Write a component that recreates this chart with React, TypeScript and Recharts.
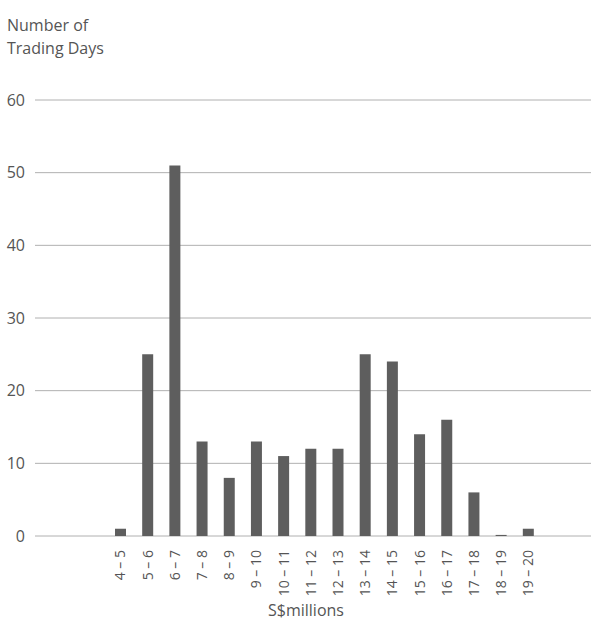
import { Bar, BarChart, CartesianGrid, XAxis, YAxis } from 'recharts';

const ranges = [
  '4 – 5', '5 – 6', '6 – 7', '7 – 8', '8 – 9', '9 – 10', '10 – 11', '11 – 12',
  '12 – 13', '13 – 14', '14 – 15', '15 – 16', '16 – 17', '17 – 18', '18 – 19', '19 – 20',
];
const tradingDays = [1, 25, 51, 13, 8, 13, 11, 12, 12, 25, 24, 14, 16, 6, 0.15, 1];
const yTicks = [0, 10, 20, 30, 40, 50, 60];

const data = ranges.map((range, i) => ({ range, days: tradingDays[i] }));

const font = '"Open Sans", sans-serif';
const textColor = '#555';

function RotatedTick({ x, y, payload }: { x: number; y: number; payload: { value: string } }) {
  return (
    <text
      x={x}
      y={y}
      transform={`rotate(-90 ${x} ${y})`}
      textAnchor="end"
      dy="0.35em"
      fontSize={14}
      fontFamily={font}
      fill={textColor}
    >
      {payload.value}
    </text>
  );
}

export default function App() {
  return (
    <div style={{ position: 'absolute', left: 0, top: 0, width: 591, height: 622, fontFamily: font, color: textColor }}>
      <div style={{ position: 'absolute', left: 7, top: 14, fontSize: 16, lineHeight: '23px' }}>
        Number of
        <br />
        Trading Days
      </div>
      <BarChart width={591} height={622} data={data} margin={{ top: 100, right: 0, bottom: 26, left: 0 }}>
        <CartesianGrid vertical={false} stroke="#b0b0b0" />
        <XAxis
          dataKey="range"
          height={60}
          axisLine={false}
          tickLine={false}
          tickSize={0}
          tickMargin={14}
          interval={0}
          padding={{ left: 72, right: 49 }}
          tick={RotatedTick}
        />
        <YAxis
          width={35}
          domain={[0, 60]}
          ticks={yTicks}
          axisLine={false}
          tickLine={false}
          tickSize={0}
          tickMargin={10}
          tick={{ fontSize: 16, fontFamily: font, fill: textColor }}
        />
        <Bar dataKey="days" fill="#5e5e5e" barSize={11} isAnimationActive={false} />
      </BarChart>
      <div style={{ position: 'absolute', left: 226, width: 160, top: 601, textAlign: 'center', fontSize: 16, lineHeight: '18px' }}>
        S$millions
      </div>
    </div>
  );
}
